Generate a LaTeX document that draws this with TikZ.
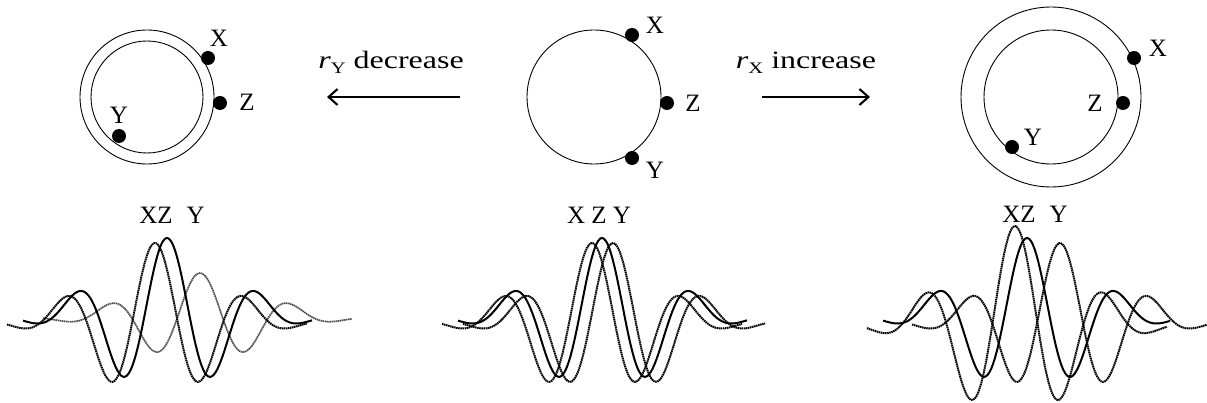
\documentclass[tikz,border=0pt]{standalone}
\usepackage{fontspec}
\setmainfont{Liberation Serif}
\usetikzlibrary{arrows.meta, positioning}

% wave packet: style, centre, baseline, amplitude, from, to
\newcommand{\wavepkt}[6]{%
  \draw[#1] plot[domain=#5:#6, samples=160, smooth]
    ({#2+\x}, {#3-#4*exp(0-(\x/84)*(\x/84))*cos(3.956*\x)});}

\tikzset{
  ring/.style={draw, circle, line width=0.9pt, inner sep=0pt},
  dot/.style={fill, circle, inner sep=0pt, minimum size=14pt},
  lbl/.style={font=\fontsize{25}{28}\selectfont, inner sep=0pt},
  arrtxt/.style={font=\fontsize{25}{28}\selectfont, xscale=1.28, inner sep=0pt, anchor=base},
  arr/.style={line width=2.3pt, -{Straight Barb[length=9pt, width=16pt, line width=2.1pt]}},
  zwave/.style={line width=2pt},
  xwave/.style={line width=2pt, dash pattern=on 1.5pt off 0.6pt, black},
  ywave/.style={line width=1.7pt, dash pattern=on 1.5pt off 0.6pt, black!70},
}

\begin{document}
\begin{tikzpicture}[x=1pt, y=-1pt]
    \useasboundingbox (0,0) rectangle (1207,403);

    % left: r_Y decreased
    \node[ring, minimum size=134pt] (lout) at (147,97) {};
    \node[ring, minimum size=112pt] (lin) at (147,97) {};
    \node[dot] (lx) at (208,58) {};
    \node[dot] (lz) at (220,103) {};
    \node[dot] (ly) at (119,136) {};
    \node[lbl] (lxl) at (219,38) {X};
    \node[lbl] (lzl) at (247,102) {Z};
    \node[lbl] (lyl) at (119,115) {Y};

    % middle
    \node[ring, minimum size=134pt] (mc) at (594,97) {};
    \node[dot] (mx) at (632,35) {};
    \node[dot] (mz) at (667,103) {};
    \node[dot] (my) at (632,158) {};
    \node[lbl] (mxl) at (655,25) {X};
    \node[lbl] (mzl) at (693,103) {Z};
    \node[lbl] (myl) at (655,170) {Y};

    % right: r_X increased
    \node[ring, minimum size=180pt] (rout) at (1051,97) {};
    \node[ring, minimum size=134pt] (rin) at (1051,97) {};
    \node[dot] (rx) at (1134,58) {};
    \node[dot] (rz) at (1123,103) {};
    \node[dot] (ry) at (1012,147) {};
    \node[lbl] (rxl) at (1158,48) {X};
    \node[lbl] (rzl) at (1095,103) {Z};
    \node[lbl] (ryl) at (1033,137) {Y};

    % arrows
    \node[arrtxt] (dec) at (391,69) {\textit{r}\raisebox{-5pt}{\fontsize{16}{16}\selectfont Y} decrease};
    \node[arrtxt] (inc) at (806,69) {\textit{r}\raisebox{-5pt}{\fontsize{16}{16}\selectfont X} increase};
    \coordinate (decA) at (460,97);
    \coordinate (decB) at (327,97);
    \coordinate (incA) at (762,97);
    \coordinate (incB) at (870,97);
    \draw[arr] (decA) -- (decB);
    \draw[arr] (incA) -- (incB);

    % wave packets
    \node[lbl, anchor=base] (lw) at (172,224) {XZ\hspace{0.55em}Y};
    \wavepkt{ywave}{200}{318}{45}{-157}{152}
    \wavepkt{xwave}{155}{322}{79}{-148}{152}
    \wavepkt{zwave}{167}{317}{79}{-144}{145}

    \node[lbl, anchor=base] (mw) at (599,224) {X Z Y};
    \wavepkt{xwave}{592}{322}{79}{-150}{150}
    \wavepkt{xwave}{613}{322}{79}{-150}{152}
    \wavepkt{zwave}{602}{317}{79}{-144}{145}

    \node[lbl, anchor=base] (rw) at (1035,223) {XZ\hspace{0.55em}Y};
    \wavepkt{xwave}{1015}{325}{99}{-148}{152}
    \wavepkt{xwave}{1060}{322}{79}{-148}{147}
    \wavepkt{zwave}{1027}{317}{79}{-144}{143}
\end{tikzpicture}
\end{document}
